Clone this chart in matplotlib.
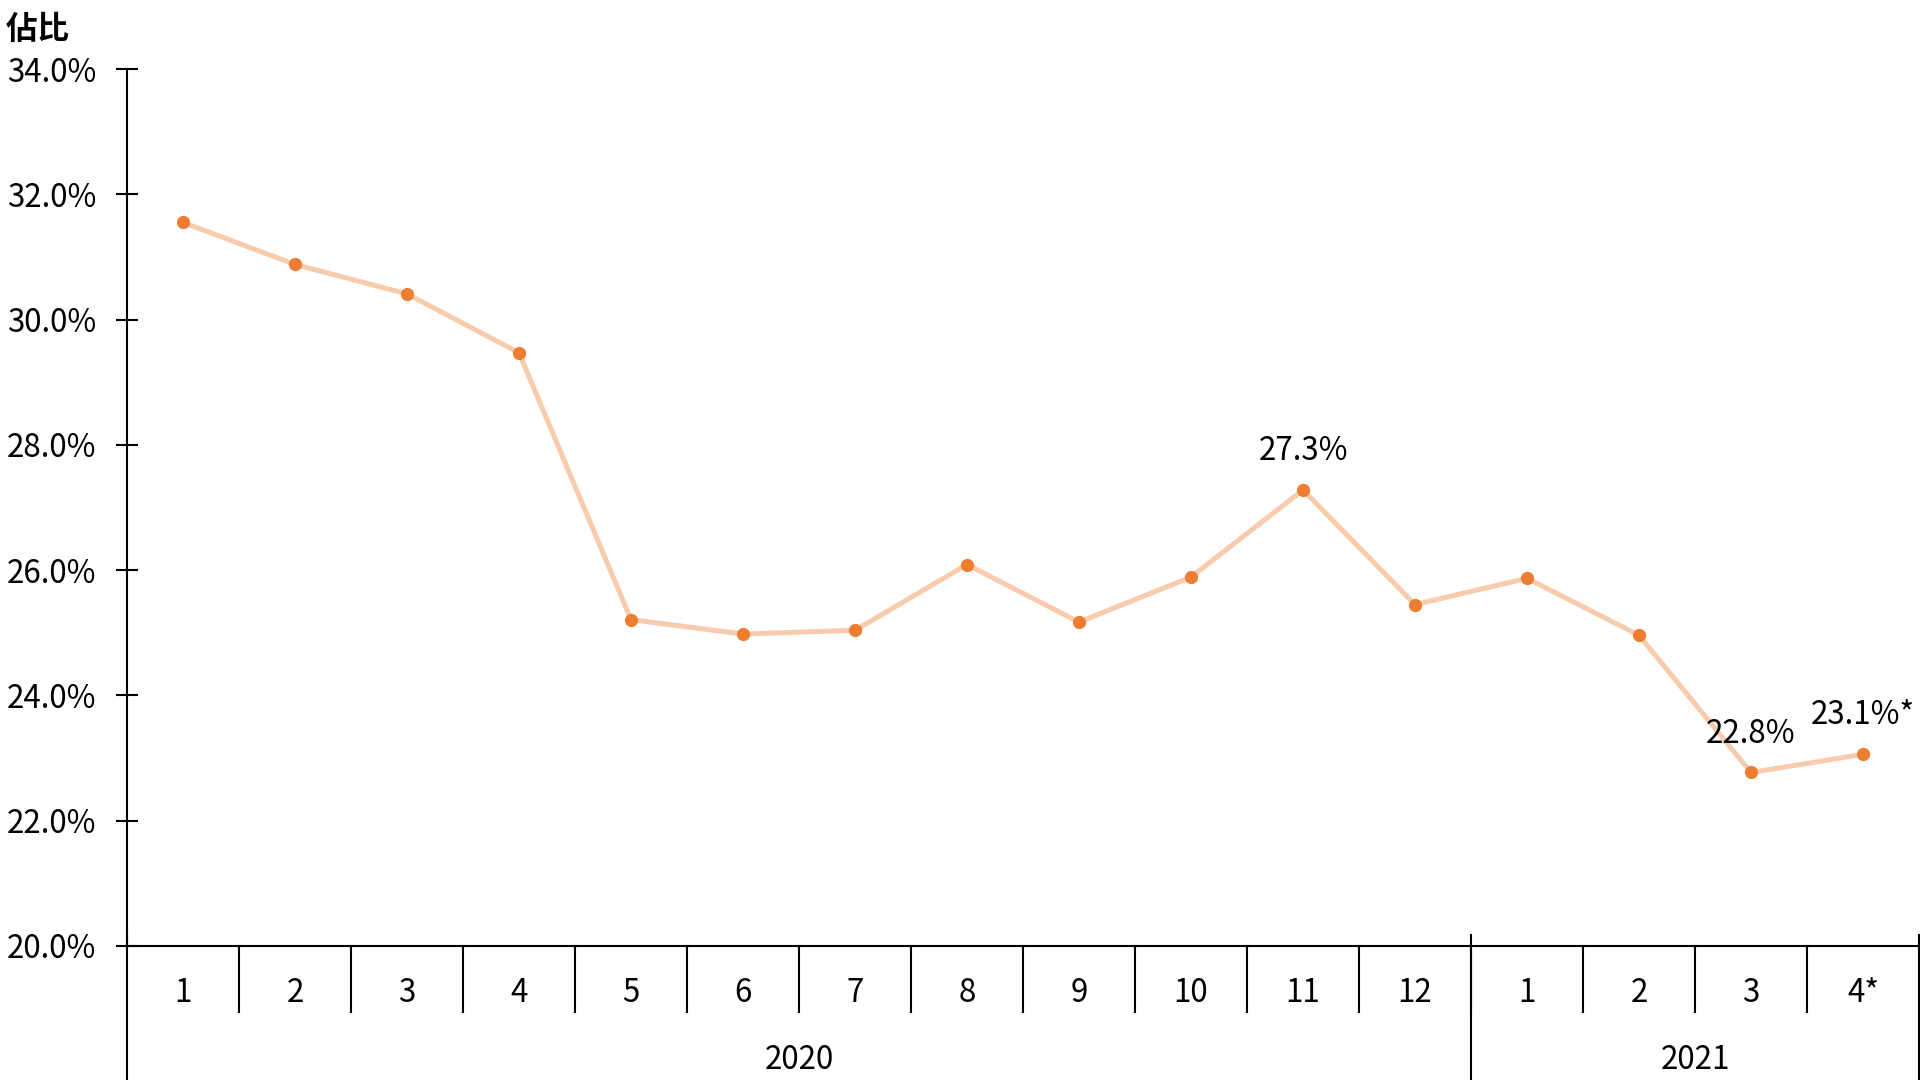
import matplotlib.pyplot as plt
from matplotlib.lines import Line2D
import matplotlib.transforms as mtransforms

plt.rcParams['font.family'] = ['Noto Sans CJK TC', 'DejaVu Sans']

# data
months = ['1', '2', '3', '4', '5', '6', '7', '8', '9', '10', '11', '12',
          '1', '2', '3', '4*']
years = ['2020', '2021']
year_counts = [12, 4]
share = [31.55, 30.88, 30.41, 29.47, 25.21, 24.98, 25.04, 26.09, 25.17,
         25.89, 27.28, 25.45, 25.87, 24.96, 22.77, 23.06]
labels = {10: '27.3%', 14: '22.8%', 15: '23.1%*'}
yticks = [20, 22, 24, 26, 28, 30, 32, 34]

fs = 22.5

fig = plt.figure(figsize=(19.2, 10.8), dpi=100)
W, H = 1920, 1080
x0, x1, ytop, ybot = 127, 1919, 69, 946
ax = fig.add_axes([x0 / W, (H - ybot) / H, (x1 - x0) / W, (ybot - ytop) / H])

x = list(range(len(share)))
ax.plot(x, share, color='#F8CBAD', lw=3.6, zorder=2, solid_capstyle='round')
ax.plot(x, share, 'o', color='#ED7D31', ms=8.5, zorder=3)

for i, t in labels.items():
    ax.annotate(t, (i, share[i]), xytext=(0, 28), textcoords='offset points',
                ha='center', va='center', fontsize=fs)

ax.set_xlim(-0.5, len(share) - 0.5)
ax.set_ylim(20, 34)
ax.set_yticks(yticks)
ax.set_yticklabels(['%.1f%%' % v for v in yticks], fontsize=fs)
ax.tick_params(axis='y', direction='inout', length=16, width=1.5, pad=14)
ax.set_xticks([])

for s in ['top', 'right']:
    ax.spines[s].set_visible(False)
ax.spines['left'].set_linewidth(1.5)
ax.spines['bottom'].set_linewidth(1.5)

# category axis below the plot
ah = ybot - ytop
trans = mtransforms.blended_transform_factory(ax.transData, ax.transAxes)
tick_bottom = -(1012 - ybot) / ah
fig_bottom = -(H - ybot) / ah
for i, m in enumerate(months):
    ax.text(i, -(993 - ybot) / ah, m, transform=trans, ha='center',
            va='center', fontsize=fs)
    if i > 0:
        ax.add_line(Line2D([i - 0.5, i - 0.5], [0, tick_bottom], transform=trans,
                           color='black', lw=1.5, clip_on=False))

start = 0
bounds = [-0.5]
for yr, n in zip(years, year_counts):
    ax.text(start + (n - 1) / 2, -(1060 - ybot) / ah, yr, transform=trans,
            ha='center', va='center', fontsize=fs)
    start += n
    bounds.append(start - 0.5)
for b in bounds:
    ax.add_line(Line2D([b, b], [0.012, fig_bottom], transform=trans,
                       color='black', lw=1.5, clip_on=False))

fig.text(6 / W, 1 - 30 / H, '佔比', fontsize=23, fontweight='bold',
         ha='left', va='center')

fig.savefig('out.png', dpi=100)
